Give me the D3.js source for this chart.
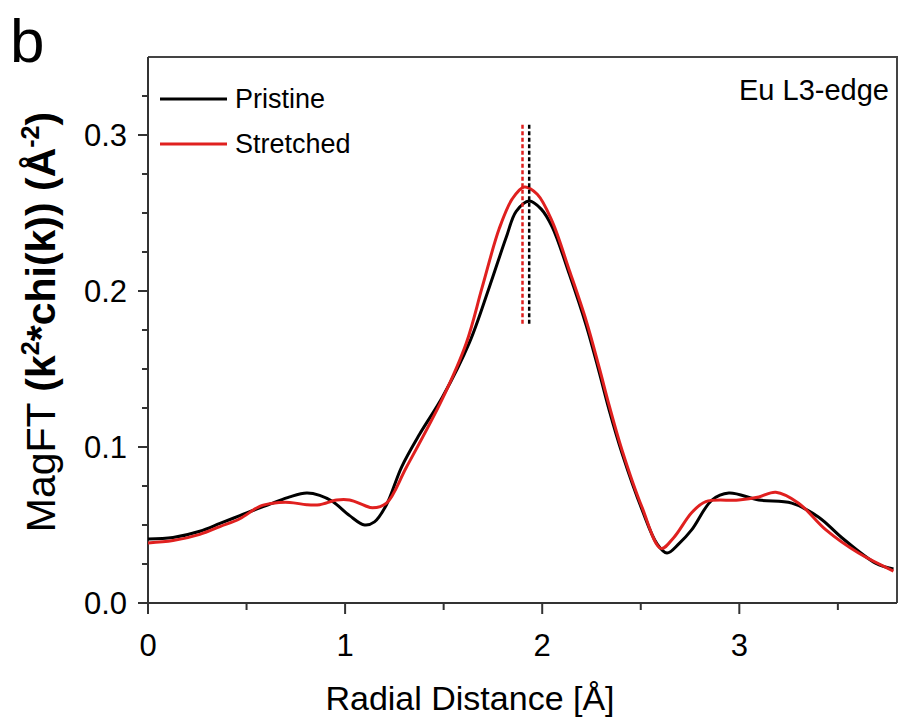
<!DOCTYPE html>
<html>
<head>
<meta charset="utf-8">
<script src="https://cdn.jsdelivr.net/npm/d3@7"></script>
<style>
  body { margin: 0; background: #fff; }
  svg { display: block; font-family: "Liberation Sans", Arial, sans-serif; }
</style>
</head>
<body>
<svg id="chart" width="899" height="726"></svg>
<script>
// radial distance (Å) and magnitude readings, one list per series
const pristineR = [0, 0.127, 0.263, 0.365, 0.466, 0.567, 0.633, 0.719, 0.805, 0.871, 0.937, 1.023, 1.099, 1.149, 1.21, 1.286, 1.377, 1.494, 1.63, 1.732, 1.818, 1.868, 1.934, 1.995, 2.051, 2.137, 2.223, 2.289, 2.339, 2.405, 2.506, 2.582, 2.633, 2.694, 2.759, 2.861, 2.947, 3.099, 3.266, 3.403, 3.519, 3.691, 3.782]
const pristineMag = [0.041, 0.042, 0.046, 0.051, 0.056, 0.061, 0.064, 0.068, 0.0705, 0.069, 0.065, 0.056, 0.050, 0.052, 0.063, 0.087, 0.108, 0.132, 0.1667, 0.2026, 0.2346, 0.251, 0.2577, 0.2525, 0.241, 0.211, 0.178, 0.148, 0.124, 0.096, 0.060, 0.038, 0.032, 0.038, 0.047, 0.066, 0.0705, 0.066, 0.064, 0.055, 0.042, 0.0256, 0.0218]

const stretchedR = [0, 0.127, 0.263, 0.365, 0.466, 0.567, 0.633, 0.719, 0.805, 0.871, 0.957, 1.023, 1.099, 1.139, 1.21, 1.311, 1.494, 1.615, 1.696, 1.782, 1.848, 1.909, 1.975, 2.051, 2.137, 2.223, 2.289, 2.339, 2.405, 2.506, 2.603, 2.668, 2.759, 2.83, 2.997, 3.099, 3.185, 3.301, 3.438, 3.605, 3.782]
const stretchedMag = [0.0385, 0.040, 0.044, 0.049, 0.054, 0.062, 0.064, 0.0645, 0.063, 0.063, 0.066, 0.066, 0.0625, 0.061, 0.064, 0.087, 0.131, 0.1667, 0.2026, 0.240, 0.259, 0.2667, 0.262, 0.2445, 0.2135, 0.181, 0.151, 0.127, 0.098, 0.0615, 0.035, 0.042, 0.058, 0.065, 0.066, 0.068, 0.071, 0.064, 0.047, 0.032, 0.0205]

// peak markers (dashed verticals)
const peakR = [1.934, 1.90]
const peakSpan = [0.179, 0.308]

const xTicks = [0, 1, 2, 3]
const yTicks = [0.0, 0.1, 0.2, 0.3]

const svg = d3.select("#chart")

const margin = { left: 148, right: 2, top: 57, bottom: 123 }
const width = 899 - margin.left - margin.right
const height = 726 - margin.top - margin.bottom

const x = d3.scaleLinear().domain([0, 3.8]).range([margin.left, margin.left + width])
const y = d3.scaleLinear().domain([0, 0.35]).range([margin.top + height, margin.top])

const axisColor = "#333"

// frame top + right
svg.append("path")
  .attr("d", `M${x(0)},${y(0.35)}H${x(3.8)}V${y(0)}`)
  .attr("fill", "none").attr("stroke", "#444").attr("stroke-width", 2)

// x axis
let xMinor = d3.range(0, 3.8, 0.5)
svg.append("g").selectAll("line").data(xMinor).enter().append("line")
  .attr("x1", d => x(d)).attr("x2", d => x(d))
  .attr("y1", y(0)).attr("y2", d => y(0) + (xTicks.includes(d) ? 11 : 7))
  .attr("stroke", axisColor).attr("stroke-width", 2)
svg.append("line")
  .attr("x1", x(0) - 10).attr("x2", x(3.8)).attr("y1", y(0)).attr("y2", y(0))
  .attr("stroke", axisColor).attr("stroke-width", 2)
svg.append("g").selectAll("text").data(xTicks).enter().append("text")
  .attr("x", d => x(d)).attr("y", 656)
  .attr("text-anchor", "middle").attr("font-size", 31)
  .text(d => d)

// y axis
let yMinor = d3.range(0, 0.35, 0.025)
svg.append("g").selectAll("line").data(yMinor).enter().append("line")
  .attr("x1", d => x(0) - (yTicks.some(t => Math.abs(t - d) < 1e-6) ? 10 : 6)).attr("x2", x(0))
  .attr("y1", d => y(d)).attr("y2", d => y(d))
  .attr("stroke", axisColor).attr("stroke-width", 2)
svg.append("line")
  .attr("x1", x(0)).attr("x2", x(0)).attr("y1", y(0) + 10).attr("y2", y(0.35))
  .attr("stroke", axisColor).attr("stroke-width", 2)
svg.append("g").selectAll("text").data(yTicks).enter().append("text")
  .attr("x", 127).attr("y", d => y(d) + 11)
  .attr("text-anchor", "end").attr("font-size", 31)
  .text(d => d.toFixed(1))

// axis titles
svg.append("text")
  .attr("x", 470).attr("y", 710)
  .attr("text-anchor", "middle").attr("font-size", 34)
  .text("Radial Distance [Å]")

let yTitle = svg.append("text")
  .attr("transform", "translate(55,322) rotate(-90)")
  .attr("text-anchor", "middle").attr("font-size", 41)
yTitle.append("tspan").text("MagFT ")
yTitle.append("tspan").attr("font-weight", "bold").text("(k")
yTitle.append("tspan").attr("font-weight", "bold").attr("font-size", 25).attr("dy", -16).text("2")
yTitle.append("tspan").attr("font-weight", "bold").attr("dy", 16).text("*chi(k)) (Å")
yTitle.append("tspan").attr("font-weight", "bold").attr("font-size", 25).attr("dy", -16).text("-2")
yTitle.append("tspan").attr("font-weight", "bold").attr("dy", 16).text(")")

// panel letter + edge note
svg.append("text").attr("x", 10).attr("y", 62).attr("font-size", 62).text("b")
svg.append("text").attr("x", 889).attr("y", 100)
  .attr("text-anchor", "end").attr("font-size", 29).text("Eu L3-edge")

// curves
const line = d3.line()
  .x(d => x(d[0]))
  .y(d => y(d[1]))
  .curve(d3.curveCatmullRom.alpha(0.5))

const series = [
  { name: "Pristine", color: "#000", r: pristineR, v: pristineMag },
  { name: "Stretched", color: "#e0201f", r: stretchedR, v: stretchedMag },
]

series.forEach(function(s) {
  svg.append("path")
    .datum(s.r.map((d, i) => [d, s.v[i]]))
    .attr("d", line)
    .attr("fill", "none")
    .attr("stroke", s.color)
    .attr("stroke-width", 3)
})

// dashed peak markers
svg.append("g").selectAll("line").data(peakR).enter().append("line")
  .attr("x1", d => x(d)).attr("x2", d => x(d))
  .attr("y1", y(peakSpan[0])).attr("y2", y(peakSpan[1]))
  .attr("stroke", (d, i) => series[i].color)
  .attr("stroke-width", 2.5)
  .attr("stroke-dasharray", "4,2.5")

// legend
const legend = svg.append("g").selectAll("g").data(series).enter().append("g")
  .attr("transform", (d, i) => `translate(0,${99 + i * 45})`)
legend.append("line")
  .attr("x1", 160).attr("x2", 227)
  .attr("stroke", d => d.color).attr("stroke-width", 3)
legend.append("text")
  .attr("x", 235).attr("y", 9).attr("font-size", 27)
  .text(d => d.name)
</script>
</body>
</html>
